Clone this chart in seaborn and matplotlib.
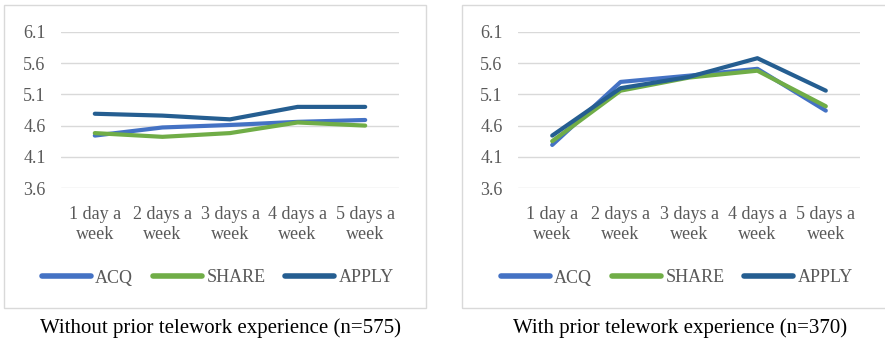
import matplotlib
matplotlib.use("Agg")
import matplotlib.pyplot as plt
from matplotlib.patches import Rectangle
import seaborn as sns
import pandas as pd

# Telework frequency categories
categories = ["1 day a\nweek", "2 days a\nweek", "3 days a\nweek", "4 days a\nweek", "5 days a\nweek"]
series_names = ["ACQ", "SHARE", "APPLY"]

# Mean scores, respondents without prior telework experience
without_acq = [4.44, 4.57, 4.61, 4.66, 4.69]
without_share = [4.48, 4.42, 4.48, 4.65, 4.60]
without_apply = [4.79, 4.76, 4.70, 4.90, 4.90]

# Mean scores, respondents with prior telework experience
with_acq = [4.29, 5.30, 5.40, 5.51, 4.84]
with_share = [4.35, 5.16, 5.37, 5.48, 4.91]
with_apply = [4.44, 5.20, 5.38, 5.68, 5.16]

y_ticks = [3.6, 4.1, 4.6, 5.1, 5.6, 6.1]
captions = ["Without prior telework experience (n=575)",
            "With prior telework experience (n=370)"]

palette = {"ACQ": "#4472C4", "SHARE": "#70AD47", "APPLY": "#255E91"}
text_gray = "#595959"
grid_gray = "#D9D9D9"


def long_frame(acq, share, apply_):
    rows = []
    for name, vals in zip(series_names, [acq, share, apply_]):
        for cat, v in zip(categories, vals):
            rows.append({"freq": cat, "score": v, "series": name})
    return pd.DataFrame(rows)


sns.set_theme(style="white")
plt.rcParams["font.family"] = ["Liberation Serif", "DejaVu Serif"]

W, H = 885, 344
fig = plt.figure(figsize=(W / 100, H / 100), dpi=100)

panels = [
    dict(data=long_frame(without_acq, without_share, without_apply),
         ax_px=(61, 399), box=(4, 5, 426, 308), legend_x=218, cap_x=221),
    dict(data=long_frame(with_acq, with_share, with_apply),
         ax_px=(518, 860), box=(462, 5, 900, 308), legend_x=677, cap_x=680),
]

for p, caption in zip(panels, captions):
    x0, x1 = p["ax_px"]
    top_px, bot_px = 32, 188
    ax = fig.add_axes([x0 / W, 1 - bot_px / H, (x1 - x0) / W, (bot_px - top_px) / H])

    # Chart border
    bx0, by0, bx1, by1 = p["box"]
    fig.patches.append(Rectangle((bx0 / W, 1 - by1 / H), (bx1 - bx0) / W, (by1 - by0) / H,
                                 transform=fig.transFigure, fill=False,
                                 edgecolor=grid_gray, linewidth=1.0, zorder=0))

    sns.lineplot(data=p["data"], x="freq", y="score", hue="series",
                 hue_order=series_names, palette=palette, sort=False,
                 linewidth=3.0, solid_capstyle="round", ax=ax, legend=False)

    ax.set_ylim(3.6, 6.1)
    ax.set_yticks(y_ticks)
    ax.set_yticklabels([f"{t:.1f}" for t in y_ticks])
    ax.set_xlim(-0.5, len(categories) - 0.5)
    ax.set_xlabel("")
    ax.set_ylabel("")
    ax.grid(axis="y", color=grid_gray, linewidth=1.0)
    ax.set_axisbelow(True)
    for s in ax.spines.values():
        s.set_visible(False)
    ax.tick_params(axis="both", length=0, labelsize=13, labelcolor=text_gray)
    ax.tick_params(axis="y", pad=11)
    ax.tick_params(axis="x", pad=13)
    for lab in ax.get_xticklabels():
        lab.set_linespacing(1.25)

    # Legend below the plot
    handles = [plt.Line2D([], [], color=palette[n], linewidth=4.0, solid_capstyle="round")
               for n in series_names]
    leg = ax.legend(handles, series_names, loc="center", ncol=3,
                    bbox_to_anchor=(p["legend_x"] / W, 1 - 278 / H),
                    bbox_transform=fig.transFigure,
                    frameon=False, fontsize=13, handlelength=2.7, handletextpad=0.25,
                    columnspacing=1.1)
    for t in leg.get_texts():
        t.set_color(text_gray)

    fig.text(p["cap_x"] / W, 1 - 328 / H, caption, ha="center", va="center",
             fontsize=15, color="#000000")

fig.savefig("out.png", dpi=100, facecolor="white")
